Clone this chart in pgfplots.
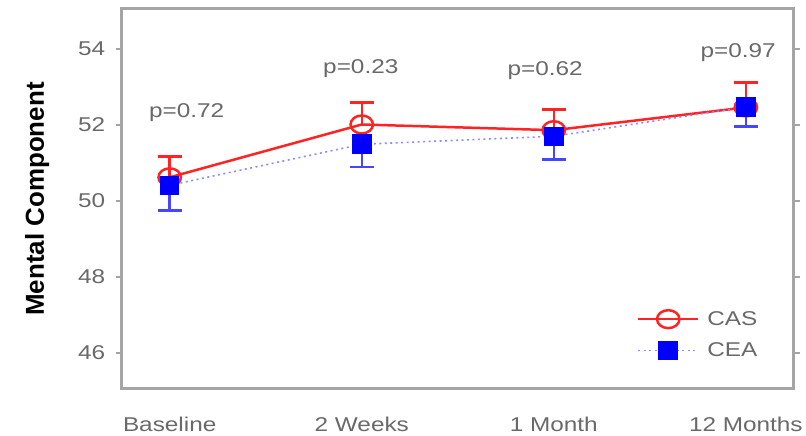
\documentclass[border=0pt]{standalone}
\usepackage{pgfplots}
\pgfplotsset{compat=1.18}
\usepackage{fontspec}
\setmainfont{Liberation Sans}
\usepackage{graphicx}

\definecolor{framegray}{RGB}{165,165,165}
\definecolor{txtgray}{RGB}{105,105,105}
\definecolor{casred}{RGB}{255,35,35}
\definecolor{ceablue}{RGB}{0,0,255}
\definecolor{ceabar}{RGB}{70,70,255}
\definecolor{cealine}{RGB}{140,140,255}

% slightly widened lettering
\newcommand{\wide}[1]{\scalebox{1.22}[1]{#1}}
\newcommand{\lblfont}{\fontsize{20bp}{24bp}\selectfont}

% group means with their standard errors
\pgfplotstableread{
x  y      e
0  50.62  0.55
1  52.01  0.58
2  51.86  0.54
3  52.46  0.65
}\cas
\pgfplotstableread{
x  y      e
0  50.41  0.66
1  51.49  0.60
2  51.70  0.61
3  52.47  0.51
}\cea

\begin{document}
\begin{tikzpicture}
\begin{axis}[
  name=ax,
  scale only axis, width=674bp, height=381bp,
  xmin=-0.25, xmax=3.25, ymin=45.05, ymax=55.05,
  axis line style={framegray, line width=3bp},
  xtick={0,1,2,3},
  xticklabels={\wide{Baseline},\wide{2 Weeks},\wide{1 Month},\wide{12 Months}},
  xtick style={draw=none},
  ytick={46,48,50,52,54},
  yticklabels={\wide{46},\wide{48},\wide{50},\wide{52},\wide{54}},
  ytick style={framegray, line width=2bp},
  tick align=outside, major tick length=6bp,
  ticklabel style={font=\lblfont, text=txtgray},
  xticklabel style={yshift=-19bp},
  yticklabel style={xshift=-7bp},
  ylabel={\fontsize{26bp}{30bp}\selectfont\bfseries Mental Component},
  ylabel style={text=black, yshift=22bp},
  legend style={draw=none, fill=none, at={(rel axis cs:0.762,0.215)}, anchor=north west,
    font=\lblfont, text=txtgray, row sep=12bp},
  legend cell align=left,
  legend image code/.code={\draw[mark repeat=2,mark phase=2] plot coordinates {(0bp,0bp) (30bp,0bp) (60bp,0bp)};},
  clip=false,
]
\addplot[casred, line width=2.5bp, mark=o, mark size=9bp,
  mark options={xscale=1.25, line width=2.5bp, solid},
  error bars/.cd, y dir=plus, y explicit,
  error bar style={line width=2.5bp, casred},
  error mark=|,
  error mark options={mark size=12bp, line width=2.5bp, casred}]
  table[x=x, y=y, y error=e] {\cas};
\addlegendentry{\hspace{6bp}\wide{CAS}}
\addplot[cealine, line width=1.6bp, dash pattern=on 2bp off 3.5bp,
  mark=square*, mark size=9bp,
  mark options={solid, draw=ceablue, fill=ceablue},
  error bars/.cd, y dir=minus, y explicit,
  error bar style={line width=2.5bp, ceabar, solid},
  error mark=|,
  error mark options={mark size=12bp, line width=2.5bp, ceabar, solid}]
  table[x=x, y=y, y error=e] {\cea};
\addlegendentry{\hspace{6bp}\wide{CEA}}

\node[anchor=base, font=\lblfont, text=txtgray] at (axis cs:0.088,52.20) {\wide{p=0.72}};
\node[anchor=base, font=\lblfont, text=txtgray] at (axis cs:0.995,53.36) {\wide{p=0.23}};
\node[anchor=base, font=\lblfont, text=txtgray] at (axis cs:1.955,53.31) {\wide{p=0.62}};
\node[anchor=base, font=\lblfont, text=txtgray] at (axis cs:2.96,53.76) {\wide{p=0.97}};
\end{axis}
\path (ax.south west) ++(-122bp,-45bp) rectangle ([shift={(10bp,9bp)}]ax.north east);
\end{tikzpicture}
\end{document}
